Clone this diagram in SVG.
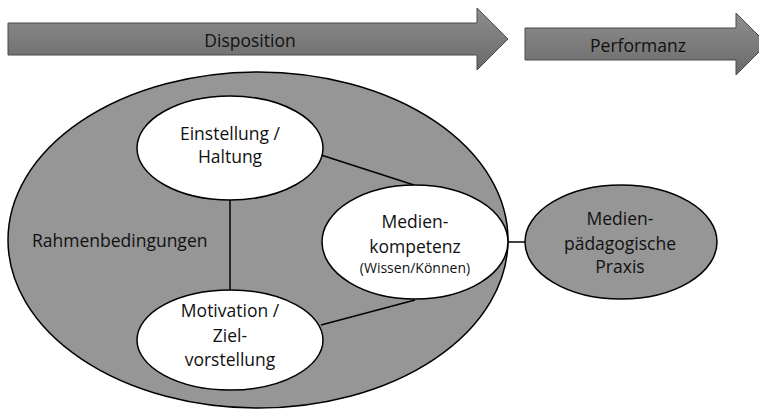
<svg xmlns="http://www.w3.org/2000/svg" width="759" height="411" viewBox="0 0 759 411">
  <defs>
    <linearGradient id="arrowGrad" x1="0" y1="0" x2="0" y2="1">
      <stop offset="0" stop-color="#8e8e8e"/>
      <stop offset="1" stop-color="#6a6a6a"/>
    </linearGradient>
    <style>
      .arrow { fill: url(#arrowGrad); stroke: #4a4a4a; stroke-width: 1; }
      .gray { fill: #969696; stroke: #000; stroke-width: 1.5; }
      .white { fill: #ffffff; stroke: #000; stroke-width: 1.5; }
      .conn { stroke: #000; stroke-width: 1.5; fill: none; }
      text { font-family: "Open Sans", "Noto Sans", sans-serif; font-size: 17.5px; fill: #111; }
      .c { text-anchor: middle; }
      .small { font-size: 14px; }
    </style>
  </defs>
  <rect width="759" height="411" fill="#ffffff"/>

  <g id="arrow-disposition">
    <path class="arrow" d="M8,23 H477 V8 L508,39 L477,70 V55 H8 Z"/>
    <text class="c" x="250" y="47">Disposition</text>
  </g>
  <g id="arrow-performanz">
    <path class="arrow" d="M525,28 H736 V13 L767,44 L736,75 V60 H525 Z"/>
    <text class="c" x="638" y="52">Performanz</text>
  </g>

  <g id="rahmenbedingungen">
    <ellipse class="gray" cx="258" cy="240" rx="250" ry="168"/>
    <text x="32" y="247">Rahmenbedingungen</text>
  </g>

  <g id="connectors">
    <line class="conn" x1="230" y1="200" x2="230" y2="291"/>
    <line class="conn" x1="321" y1="155" x2="414" y2="185"/>
    <line class="conn" x1="321" y1="325" x2="415" y2="300"/>
    <line class="conn" x1="508" y1="242" x2="525" y2="242"/>
  </g>

  <g id="einstellung">
    <ellipse class="white" cx="230" cy="148" rx="93" ry="52"/>
    <text class="c" x="230" y="140">Einstellung /</text>
    <text class="c" x="230" y="163">Haltung</text>
  </g>

  <g id="motivation">
    <ellipse class="white" cx="230" cy="340" rx="93" ry="50"/>
    <text class="c" x="230" y="317">Motivation /</text>
    <text class="c" x="230" y="342">Ziel-</text>
    <text class="c" x="230" y="366">vorstellung</text>
  </g>

  <g id="medienkompetenz">
    <ellipse class="white" cx="415" cy="242" rx="93" ry="57"/>
    <text class="c" x="415" y="228">Medien-</text>
    <text class="c" x="415" y="253">kompetenz</text>
    <text class="c small" x="415" y="273">(Wissen/Können)</text>
  </g>

  <g id="praxis">
    <ellipse class="gray" cx="621" cy="242" rx="96" ry="57"/>
    <text class="c" x="620" y="225">Medien-</text>
    <text class="c" x="620" y="250">pädagogische</text>
    <text class="c" x="620" y="273">Praxis</text>
  </g>
</svg>
